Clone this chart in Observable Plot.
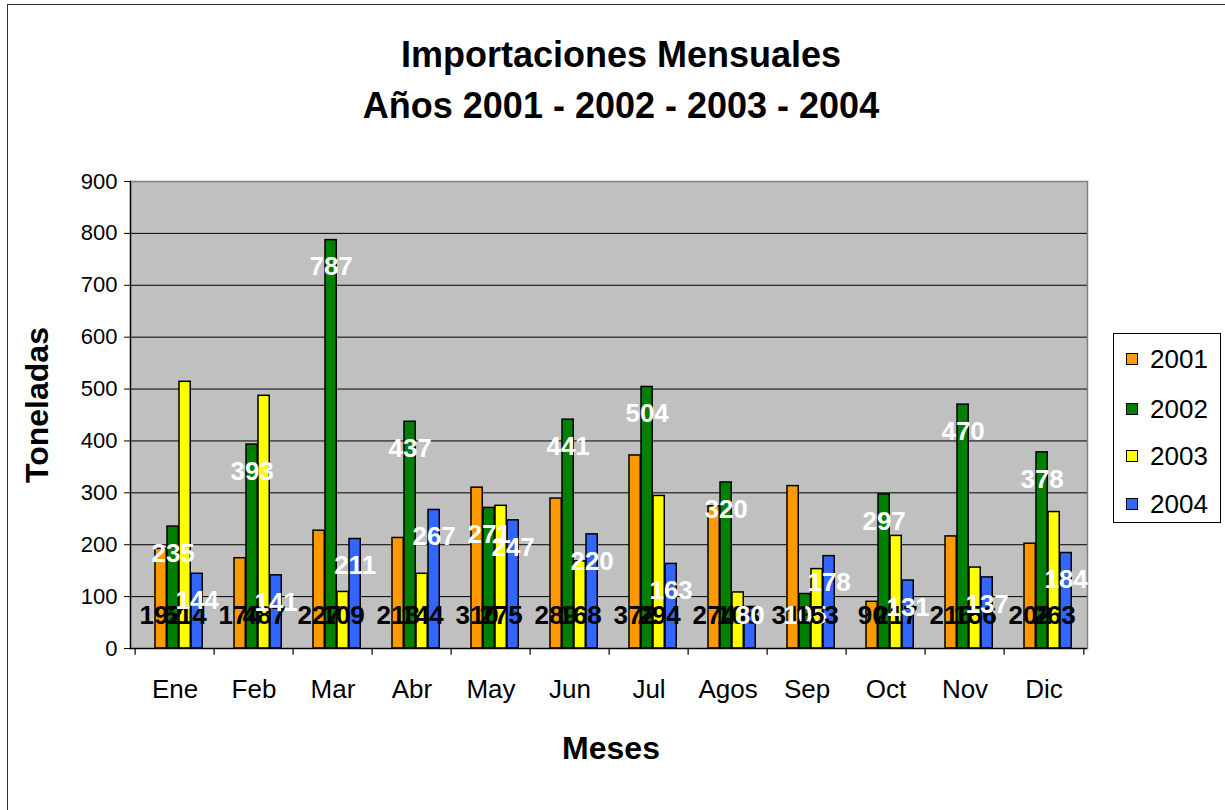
<!DOCTYPE html>
<html>
<head>
<meta charset="utf-8">
<script src="https://cdn.jsdelivr.net/npm/d3@7"></script>
<script src="https://cdn.jsdelivr.net/npm/@observablehq/plot@0.6"></script>
<style>
  body { margin: 0; background: #fff; font-family: "Liberation Sans", Arial, Helvetica, sans-serif; }
  #wrap { position: relative; width: 1225px; height: 810px; overflow: hidden; background: #fff; }
  #frame { position: absolute; left: 7px; top: 4px; width: 1240px; height: 830px; border: 1.5px solid #333; box-sizing: border-box; }
  #chart { position: absolute; left: 0; top: 0; }
  .t { position: absolute; white-space: nowrap; line-height: 1; color: #000; }
  .title { left: 0; width: 1242px; text-align: center; font-weight: bold; font-size: 36px; }
  #legend { position: absolute; left: 1113px; top: 333px; width: 108px; height: 190px; border: 1px solid #000; box-sizing: border-box; background: #fff; }
  .sw { position: absolute; width: 12px; height: 12px; border: 1.5px solid #000; box-sizing: border-box; }
  .lt { position: absolute; font-size: 26px; line-height: 1; }
</style>
</head>
<body>
<div id="wrap">
  <div id="frame"></div>
  <div id="chart"></div>
  <div class="t title" style="top:37px">Importaciones Mensuales</div>
  <div class="t title" style="top:88px">Años 2001 - 2002 - 2003 - 2004</div>
  <div class="t" id="xlab" style="left:0;width:1222px;text-align:center;top:732px;font-weight:bold;font-size:32px;">Meses</div>
  <div class="t" id="ylab" style="left:37px;top:405px;font-weight:bold;font-size:32px;transform:translate(-50%,-50%) rotate(-90deg);transform-origin:center;">Toneladas</div>
  <div id="legend"></div>
</div>
<script>
// ---- data ----
const months = ["Ene","Feb","Mar","Abr","May","Jun","Jul","Agos","Sep","Oct","Nov","Dic"];
const years = ["2001","2002","2003","2004"];
const v2001 = [192,174,227,213,310,289,372,274,313,90,216,202];
const v2002 = [235,393,787,437,271,441,504,320,105,297,470,378];
const v2003 = [514,487,109,144,275,168,294,108,153,217,156,263];
const v2004 = [144,141,211,267,247,220,163,80,178,131,137,184];
const yTicks = [0,100,200,300,400,500,600,700,800,900];
const colors = ["#FF9900","#008000","#FFFF00","#3366FF"];

const seriesValues = [v2001, v2002, v2003, v2004];
const series = years.map((yr, i) => months.map((m, j) => ({month: m, year: yr, value: seriesValues[i][j]})));

// ---- layout ----
const W = 1225, H = 810;
const mL = 130, mR = W - 1087, mT = 181, mB = H - 648;
const bw = (W - mL - mR) / months.length;
const barW = 12, groupOff = 20;

const marks = [
  Plot.frame({fill: "#C0C0C0", stroke: null}),
  Plot.ruleY(yTicks.filter(t => t > 0 && t < 900), {y: d => d, stroke: "#000", strokeWidth: 1}),
  Plot.ruleY([900], {stroke: "#808080", strokeWidth: 1.5}),
  Plot.frame({anchor: "right", stroke: "#808080", strokeWidth: 1.5})
];

series.forEach((s, i) => {
  const il = groupOff + barW * i;
  marks.push(Plot.barY(s, {
    x: "month", y: "value", fill: colors[i], stroke: "#000", strokeWidth: 1.5,
    insetLeft: il, insetRight: bw - il - barW
  }));
});

marks.push(
  Plot.ruleY([0], {stroke: "#000", strokeWidth: 1.5}),
  Plot.frame({anchor: "left", stroke: "#000", strokeWidth: 1.5}),
  Plot.ruleX(months, {x: d => d, dx: -bw / 2, y1: 0, y2: -13, stroke: "#000", strokeWidth: 1.2}),
  Plot.ruleX([months[months.length - 1]], {x: d => d, dx: bw / 2, y1: 0, y2: -13, stroke: "#000", strokeWidth: 1.2})
);

// value labels, drawn in series order
series.forEach((s, i) => {
  const dx = groupOff + barW * i + barW / 2 - bw / 2;
  const white = (i === 1 || i === 3);
  marks.push(Plot.text(s, {
    x: "month",
    y: white ? (d => Math.max(d.value - 52, 64)) : (() => 63),
    text: d => String(d.value),
    dx,
    fill: white ? "#fff" : "#000",
    fontSize: 26, fontWeight: "bold", textAnchor: "middle"
  }));
});

marks.push(
  Plot.axisY({ticks: yTicks, tickSize: 6, tickPadding: 7, fontSize: 22, label: null, tickFormat: d => String(d)}),
  Plot.axisX({tickSize: 0, tickPadding: 31, fontSize: 26, label: null})
);

const chart = Plot.plot({
  width: W, height: H,
  marginLeft: mL, marginRight: mR, marginTop: mT, marginBottom: mB,
  style: {background: "transparent", fontFamily: "'Liberation Sans', Arial, sans-serif", color: "#000", overflow: "visible"},
  x: {type: "band", domain: months, padding: 0},
  y: {domain: [0, 900]},
  marks
});
document.getElementById("chart").appendChild(chart);

// legend
const lg = document.getElementById("legend");
const rowY = [25, 75, 122, 170];
years.forEach((yr, i) => {
  const sw = document.createElement("div");
  sw.className = "sw";
  sw.style.left = "12px";
  sw.style.top = (rowY[i] - 6) + "px";
  sw.style.background = colors[i];
  lg.appendChild(sw);
  const t = document.createElement("div");
  t.className = "lt";
  t.style.left = "36px";
  t.style.top = (rowY[i] - 13) + "px";
  t.textContent = yr;
  lg.appendChild(t);
});
</script>
</body>
</html>
